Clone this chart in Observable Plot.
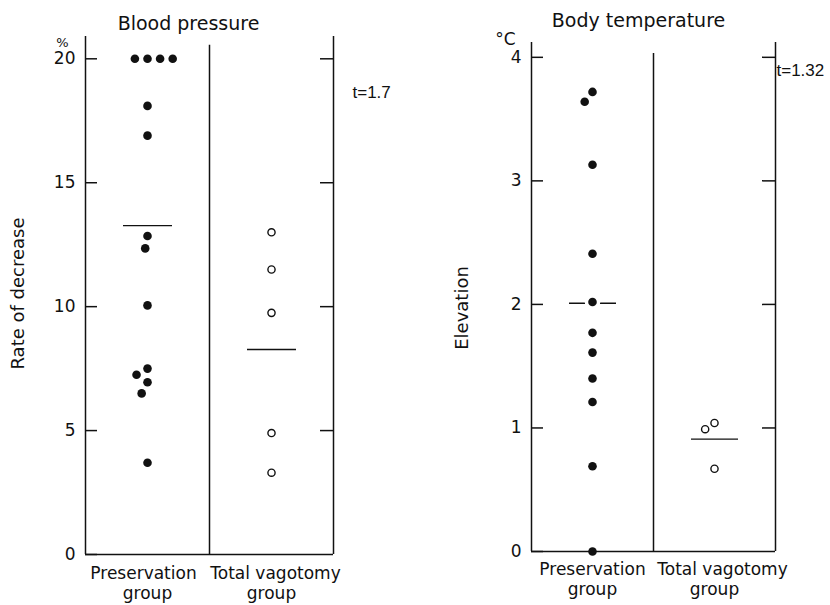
<!DOCTYPE html>
<html>
<head>
<meta charset="utf-8">
<script src="https://cdn.jsdelivr.net/npm/d3@7"></script>
<script src="https://cdn.jsdelivr.net/npm/@observablehq/plot@0.6"></script>
<style>
  body { margin: 0; background: #fff; }
  #chart { width: 830px; height: 605px; display: flex; background: #fff; }
</style>
</head>
<body>
<div id="chart"></div>
<script>
// Groups compared in both panels
const groups = ["Preservation group", "Total vagotomy group"];

// Blood pressure: rate of decrease (%)
const bpPreservation = [20, 20, 20, 20, 18.1, 16.9, 12.85, 12.35, 10.05, 7.5, 7.25, 6.95, 6.5, 3.7];
const bpVagotomy = [13.0, 11.5, 9.75, 4.9, 3.3];
const bpMeans = [13.27, 8.27];
const bpTicks = [0, 5, 10, 15, 20];
const bpT = "t=1.7";

// Body temperature: elevation (°C)
const tempPreservation = [3.72, 3.64, 3.13, 2.41, 2.02, 1.77, 1.61, 1.40, 1.21, 0.69, 0.0];
const tempVagotomy = [1.04, 0.99, 0.67];
const tempMeans = [2.01, 0.91];
const tempTicks = [0, 1, 2, 3, 4];
const tempT = "t=1.32";

const ink = "#111";

function splitLabel(s) {
  const i = s.lastIndexOf(" ");
  return [s.slice(0, i), s.slice(i + 1)];
}

function panel(o) {
  const [g0, g1] = groups;
  const width = 415, height = 605;
  const facetW = (width - o.ml - o.mr) / 2;
  const filled = o.pres.map(v => ({group: g0, value: v}));
  const open = o.vag.map(v => ({group: g1, value: v}));
  const meanRows = o.means.map((v, i) => ({group: groups[i], value: v}));
  const frameLines = [
    {group: g0, x: 0, top: o.yMax},
    {group: g1, x: 0, top: o.dividerTop},
    {group: g1, x: 1, top: o.yMax}
  ];
  const dodge = opts => Plot.dodgeX({anchor: "middle", padding: 4}, opts);

  // two-line category labels under each column
  const groupLabels = groups.flatMap((g, i) => {
    const [first, second] = splitLabel(g);
    return [
      Plot.text([first], {fx: () => g, frameAnchor: "bottom", dx: o.line1Dx[i], dy: o.line1, lineAnchor: "bottom", fontSize: 17}),
      Plot.text([second], {fx: () => g, frameAnchor: "bottom", dy: o.line2, lineAnchor: "bottom", fontSize: 17})
    ];
  });

  return Plot.plot({
    width, height,
    marginLeft: o.ml, marginRight: o.mr, marginTop: o.mt, marginBottom: o.mb,
    style: {fontFamily: "'DejaVu Sans', sans-serif", fontSize: "17px", color: ink, background: "white", overflow: "visible"},
    fx: {domain: groups, padding: 0, axis: null},
    x: {domain: [0, 1], axis: null},
    y: {domain: [0, o.yMax]},
    marks: [
      // group means
      Plot.tickY(meanRows, {fx: "group", y: "value", insetLeft: 38, insetRight: 37, stroke: ink, strokeWidth: 1.4}),
      // white halo so the mean line breaks around the dots
      Plot.dot(filled, dodge({fx: "group", y: "value", r: 4.3, fill: "white", stroke: "white", strokeWidth: 7})),
      // panel outline: left axis, divider, right line, baseline
      Plot.ruleX(frameLines, {fx: "group", x: "x", y1: 0, y2: "top", stroke: ink, strokeWidth: 1.5}),
      Plot.ruleY([0], {stroke: ink, strokeWidth: 1.5}),
      // inward ticks on both sides
      Plot.tickY(o.ticks, {fx: () => g0, y: d => d, insetRight: facetW - 12, stroke: ink, strokeWidth: 1.5}),
      Plot.tickY(o.ticks.filter(d => d > 0), {fx: () => g1, y: d => d, insetLeft: facetW - 13, stroke: ink, strokeWidth: 1.5}),
      Plot.axisY(o.ticks, {tickSize: 0, tickPadding: 10, tickFormat: d => String(d), fontSize: 17, label: null}),
      // observations
      Plot.dot(filled, dodge({fx: "group", y: "value", r: 4.3, fill: ink})),
      Plot.dot(open, dodge({fx: "group", y: "value", r: 3.6, fill: "white", stroke: ink, strokeWidth: 1.4})),
      // titles, units, statistics, axis label
      Plot.text([o.title], {fx: () => g0, frameAnchor: "top-left", dx: o.titleDx, dy: o.titleDy, textAnchor: "middle", lineAnchor: "bottom", fontSize: 19}),
      Plot.text([o.unit], {fx: () => g0, frameAnchor: "top-left", dx: o.unitDx, dy: o.unitDy, textAnchor: "middle", fontSize: o.unitSize}),
      Plot.text([o.tStat], {fx: () => g1, frameAnchor: "top-right", dx: o.tDx, dy: o.tDy, textAnchor: "start", lineAnchor: "bottom", fontFamily: "'Liberation Sans', Arial, sans-serif", fontSize: 17}),
      Plot.text([o.yLabel], {fx: () => g0, frameAnchor: "left", dx: o.yLabelDx, dy: o.yLabelDy, rotate: -90, textAnchor: "middle", fontSize: 18}),
      ...groupLabels
    ]
  });
}

const chart = document.getElementById("chart");

chart.append(panel({
  title: "Blood pressure", unit: "%", unitSize: 13, yLabel: "Rate of decrease", tStat: bpT,
  pres: bpPreservation, vag: bpVagotomy, means: bpMeans, ticks: bpTicks,
  yMax: 20.9, dividerTop: 20.55,
  ml: 85, mr: 82, mt: 36, mb: 51,
  titleDx: 103, titleDy: -7, unitDx: -23, unitDy: 1,
  tDx: 19, tDy: 61, yLabelDx: -67, yLabelDy: -2,
  line1: 24, line2: 44, line1Dx: [-4, 4]
}));

chart.append(panel({
  title: "Body temperature", unit: "°C", unitSize: 17, yLabel: "Elevation", tStat: tempT,
  pres: tempPreservation, vag: tempVagotomy, means: tempMeans, ticks: tempTicks,
  yMax: 4.12, dividerTop: 4.03,
  ml: 116, mr: 55, mt: 42, mb: 54,
  titleDx: 107, titleDy: -16, unitDx: -26, unitDy: -10,
  tDx: 1, tDy: 33, yLabelDx: -69, yLabelDy: 11,
  line1: 23, line2: 43, line1Dx: [0, 8]
}));
</script>
</body>
</html>
